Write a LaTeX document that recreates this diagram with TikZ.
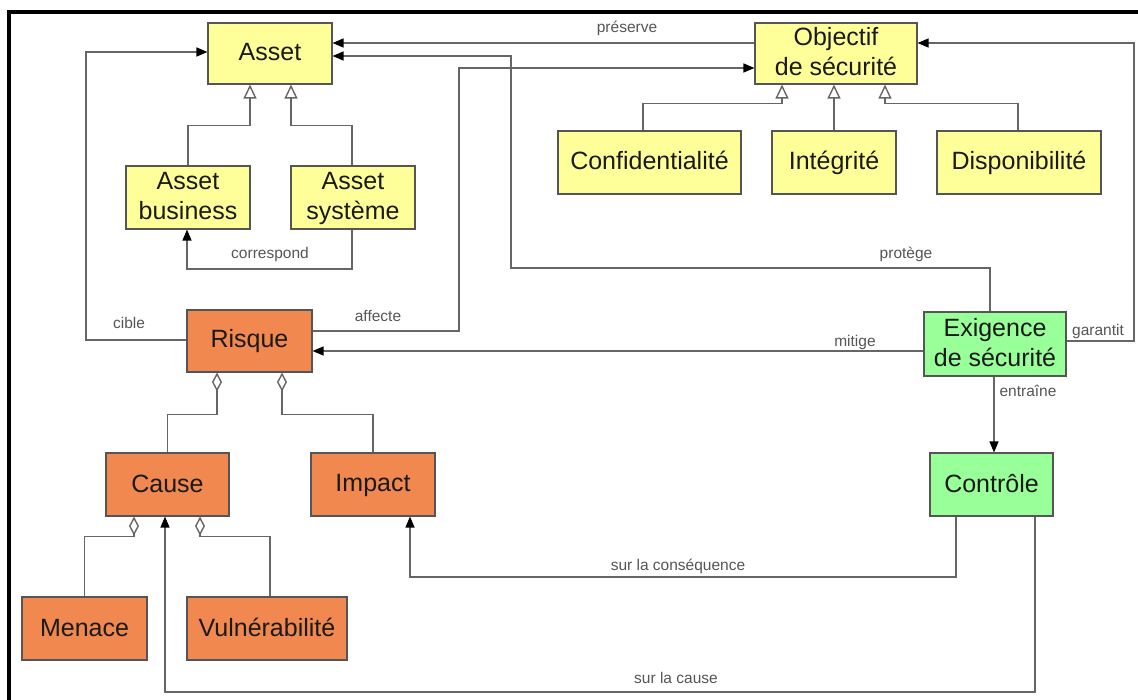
\documentclass[tikz,border=0pt]{standalone}
\usepackage{fontspec}
\setmainfont{Liberation Sans}
\usetikzlibrary{arrows.meta}

\definecolor{assetfill}{HTML}{FFFF99}
\definecolor{riskfill}{HTML}{F0884F}
\definecolor{ctrlfill}{HTML}{99FF99}
\definecolor{boxline}{HTML}{555555}
\definecolor{boxtext}{HTML}{1A1A1A}
\definecolor{wire}{HTML}{666666}
\definecolor{lbltext}{HTML}{555555}

% strut giving every box line the same height and depth
\newcommand{\boxstrut}{\rule[-4pt]{0pt}{23pt}}

\begin{document}
\begin{tikzpicture}[x=1pt,y=-1pt,
  box/.style={draw=boxline, line width=1.1pt, inner sep=0pt, align=center,
    font=\fontsize{25}{30}\selectfont, text=boxtext, minimum height=63pt},
  ybox/.style={box, fill=assetfill},
  obox/.style={box, fill=riskfill},
  gbox/.style={box, fill=ctrlfill},
  lbl/.style={font=\fontsize{15.5}{18}\selectfont, text=lbltext, inner sep=0pt},
  wirestyle/.style={draw=wire, line width=1.4pt},
  arr/.style={wirestyle, -{Triangle[length=11pt,width=9pt,fill=black,color=black]}},
  gen/.style={wirestyle, -{Triangle[open,length=14pt,width=13pt,fill=white]}},
  agg/.style={wirestyle, {Diamond[open,length=19pt,width=10pt,fill=white]}-},
]
\useasboundingbox (0,0) rectangle (1138,700);

% outer frame
\draw[line width=4pt] (9,700) -- (9,12) -- (1138,12);

% asset hierarchy
\node[ybox, minimum width=124pt, minimum height=61pt] (asset) at (270,53.5) {\boxstrut Asset};
\node[ybox, minimum width=124pt] (abiz) at (188,197.5) {\boxstrut Asset\\\boxstrut business};
\node[ybox, minimum width=124pt] (asys) at (353,197.5) {\boxstrut Asset\\\boxstrut système};

% security objectives
\node[ybox, minimum width=162pt, minimum height=61pt] (obj) at (836,53.5) {\boxstrut Objectif\\\boxstrut de sécurité};
\node[ybox, minimum width=183pt] (conf) at (649.5,162.5) {\boxstrut Confidentialité};
\node[ybox, minimum width=124pt] (integ) at (834,162.5) {\boxstrut Intégrité};
\node[ybox, minimum width=164pt] (disp) at (1019,162.5) {\boxstrut Disponibilité};

% risk side
\node[obox, minimum width=125pt, minimum height=62pt] (risque) at (249.5,341) {\boxstrut Risque};
\node[obox, minimum width=123pt] (cause) at (167.5,484.5) {\boxstrut Cause};
\node[obox, minimum width=124pt] (impact) at (373,484.5) {\boxstrut Impact};
\node[obox, minimum width=125pt] (menace) at (84.5,628.5) {\boxstrut Menace};
\node[obox, minimum width=160pt] (vuln) at (267,628.5) {\boxstrut Vulnérabilité};

% requirement side
\node[gbox, minimum width=142pt, minimum height=64pt] (exig) at (995,344) {\boxstrut Exigence\\\boxstrut de sécurité};
\node[gbox, minimum width=123pt] (ctrl) at (991.5,484.5) {\boxstrut Contrôle};

% generalisations
\draw[gen] (abiz.north) -- ++(0,-40) -| ([xshift=-20pt]asset.south);
\draw[gen] ([xshift=-1pt]asys.north) -- ++(0,-40) -| ([xshift=21pt]asset.south);
\draw[gen] ([xshift=-6.5pt]conf.north) -- ++(0,-27) -| ([xshift=-54pt]obj.south);
\draw[gen] (integ.north) -- (integ.north |- obj.south);
\draw[gen] ([xshift=-1pt]disp.north) -- ++(0,-27) -| ([xshift=49pt]obj.south);

% aggregations
\draw[agg] ([xshift=-32.5pt]risque.south) -- ++(0,42) -| (cause.north);
\draw[agg] ([xshift=32.5pt]risque.south) -- ++(0,42) -| (impact.north);
\draw[agg] ([xshift=-33.5pt]cause.south) -- ++(0,20) -| (menace.north);
\draw[agg] ([xshift=32.5pt]cause.south) -- ++(0,20) -| ([xshift=3pt]vuln.north);

% associations
\draw[arr] ([yshift=10.5pt]obj.west) -- ([yshift=10.5pt]asset.east);
\node[lbl] (lpreserve) at (627,28) {préserve};

\draw[arr] ([xshift=-5pt]exig.north) |- (511,268) |- ([yshift=-2.5pt]asset.east);
\node[lbl] (lprotege) at (906,254) {protège};

\draw[arr] ([yshift=3pt]exig.east) -| (1134,43) -- ([yshift=10.5pt]obj.east);
\node[lbl] (lgarantit) at (1098,331) {garantit};

\draw[arr] ([yshift=10pt]risque.east) -| (459,68) -- ([yshift=-14.5pt]obj.west);
\node[lbl] (laffecte) at (378,316) {affecte};

\draw[arr] ([yshift=1pt]risque.west) -| (86,52) -- ([yshift=1.5pt]asset.west);
\node[lbl] (lcible) at (129,323) {cible};

\draw[arr] ([yshift=-7pt]exig.west) -- ([yshift=-10pt]risque.east);
\node[lbl] (lmitige) at (855,342) {mitige};

\draw[arr] ([xshift=-1pt]exig.south) -- ([xshift=2.5pt]ctrl.north);
\node[lbl] (lentraine) at (1028,391) {entraîne};

\draw[arr] ([xshift=-1pt]asys.south) |- (187,269) -- ([xshift=-1pt]abiz.south);
\node[lbl] (lcorrespond) at (270,254) {correspond};

\draw[arr] ([xshift=-35.5pt]ctrl.south) |- (410,577) -- ([xshift=37pt]impact.south);
\node[lbl] (lconseq) at (678,566) {sur la conséquence};

\draw[arr] ([xshift=43.5pt]ctrl.south) |- (165,692) -- ([xshift=-2.5pt]cause.south);
\node[lbl] (lcause) at (676,678) {sur la cause};

\end{tikzpicture}
\end{document}
